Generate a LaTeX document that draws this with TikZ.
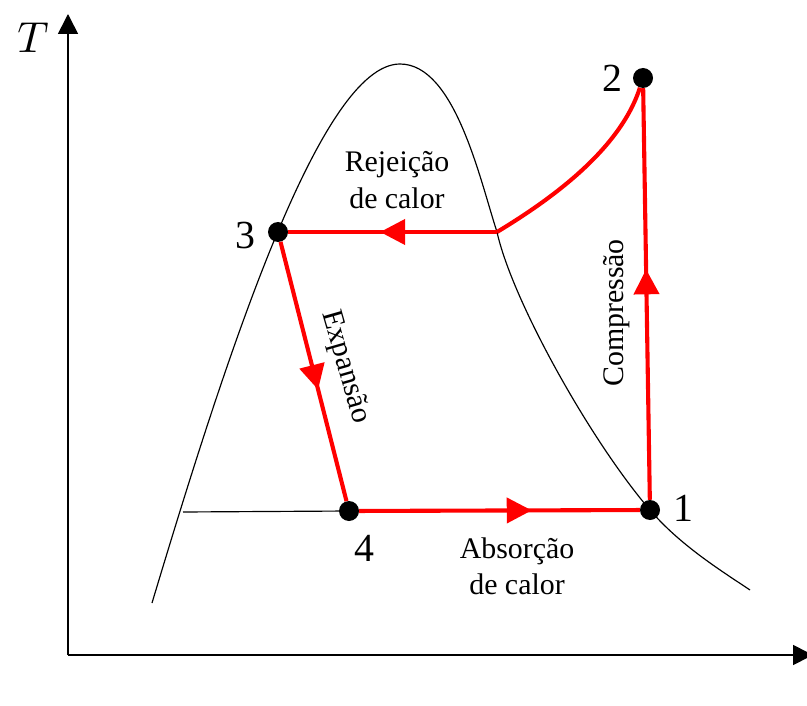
\documentclass[tikz,border=0pt]{standalone}
\usepackage{graphicx}
\usepackage{fontspec}
\setmainfont{Liberation Serif}
\usetikzlibrary{arrows.meta, decorations.markings}

\tikzset{
	ponto/.style={circle, fill=black, inner sep=0pt, minimum size=0.6cm},
	ciclo/.style={red, line width=3.5pt},
	seta/.style={decoration={markings, mark=at position #1 with {\arrow{Triangle[length=0.75cm, width=0.75cm]}}}, postaction={decorate}},
	rotulo/.style={font=\fontsize{25.5}{31}\selectfont, align=center},
	numero/.style={font=\fontsize{34}{40}\selectfont},
	eixo/.style={line width=1.4pt, -{Triangle[length=0.6cm, width=0.6cm]}}
}

\begin{document}
\begin{tikzpicture}[x=0.03cm, y=-0.03cm]
					\useasboundingbox (0,0) rectangle (807,706);
					% eixos
					\coordinate (o) at (68,655);
					\coordinate (ytopo) at (68,14);
					\coordinate (xfim) at (813,655);
					\draw[eixo] (o) -- (ytopo);
					\draw[eixo] (o) -- (xfim);
					\node (T) at (33,38) {\scalebox{3.7}{$T$}};
					\node (s) at (814,710) {\scalebox{3.7}{$s$}};
					% domo de saturacao
					\draw[line width=1pt] (152,603) .. controls (225,360) and (320,64) .. (400,64)
						.. controls (455,64) and (480,180) .. (497,232)
						.. controls (512,300) and (590,440) .. (650,510)
						.. controls (680,545) and (720,570) .. (750,590);
					\coordinate (liq) at (183,512);
					\coordinate (vap) at (497,232);
					% pontos do ciclo
					\node[ponto] (p1) at (650,510) {};
					\node[ponto] (p2) at (643,78) {};
					\node[ponto] (p3) at (278,232) {};
					\node[ponto] (p4) at (349,511) {};
					\node[numero] (n1) at (683,508) {1};
					\node[numero] (n2) at (612,78) {2};
					\node[numero] (n3) at (245,236) {3};
					\node[numero] (n4) at (364,548) {4};
					\draw[line width=1pt] (liq) -- (p4);
					\draw[ciclo, seta=0.615] (p4) -- (p1);
					\draw[ciclo, seta=0.56] (p1) -- (p2);
					\draw[ciclo] (p2) .. controls (620,150) and (550,200) .. (vap);
					\draw[ciclo, seta=0.56] (vap) -- (p3);
					\draw[ciclo, seta=0.57] (p3) -- (p4);
					% textos
					\node[rotulo] (rej) at (397,180) {Rejeição\\de calor};
					\node[rotulo] (abs) at (517,566) {Absorção\\de calor};
					\node[rotulo, rotate=90] (comp) at (617,313) {Compressão};
					\node[rotulo, rotate=-74] (exp) at (345,367) {Expansão};
				\end{tikzpicture}
\end{document}
